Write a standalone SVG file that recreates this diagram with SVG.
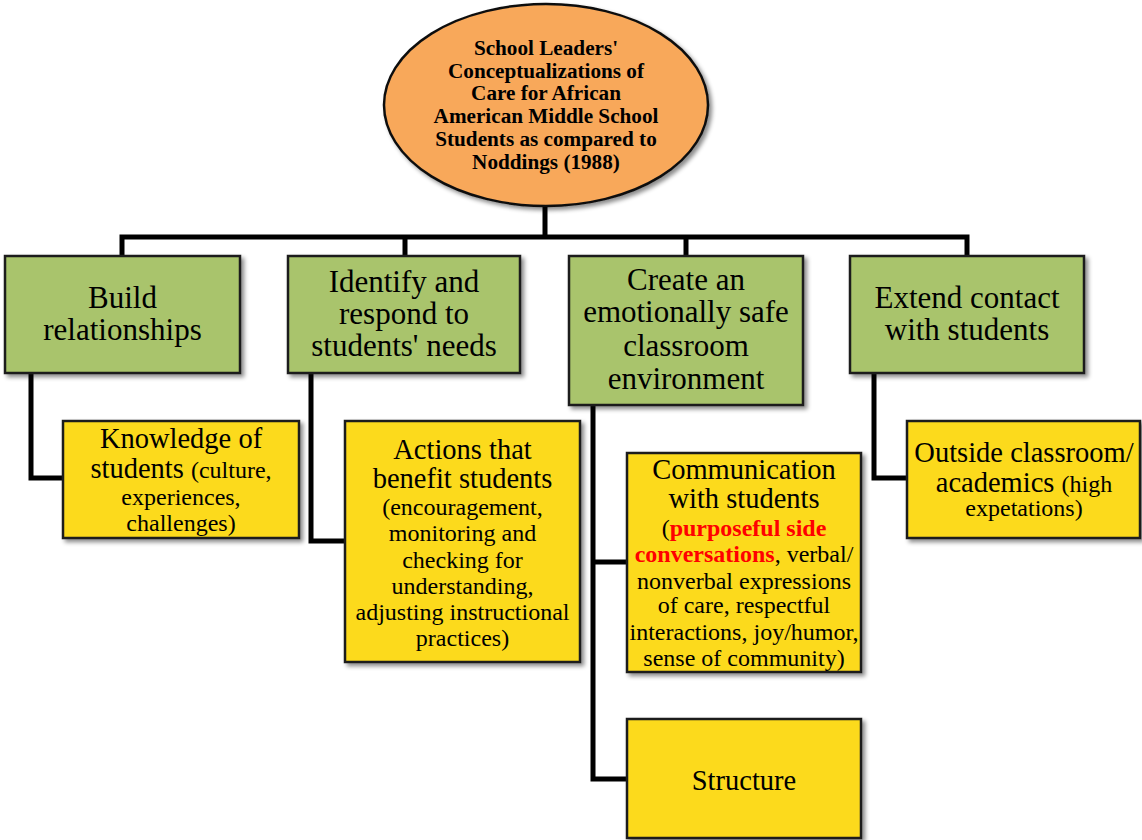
<svg xmlns="http://www.w3.org/2000/svg" width="1142" height="840" viewBox="0 0 1142 840">
<style>
.green{fill:#A9C46C;stroke:#1a1a1a;stroke-width:2.5;filter:url(#sh)}
.yellow{fill:#FCDA1F;stroke:#1a1a1a;stroke-width:2.5;filter:url(#sh)}
.oval{fill:#F8A85A;stroke:#111;stroke-width:2.5;filter:url(#sh)}
.t{font-family:"Liberation Serif","Times New Roman",serif;fill:#000;text-anchor:middle}
.g{font-size:31px}
.y{font-size:28.5px}
.s{font-size:24px}
.b{font-family:"Liberation Serif","Times New Roman",serif;font-weight:bold;font-size:21.2px;text-anchor:middle;fill:#000}
.red{fill:#FF0000;font-weight:bold}
.c{fill:none;stroke:#000;stroke-width:5;stroke-linejoin:miter}
</style>
<defs>
<filter id="sh" x="-10%" y="-10%" width="130%" height="130%">
<feDropShadow dx="3" dy="3" stdDeviation="2" flood-color="#000" flood-opacity="0.45"/>
</filter>
</defs>
<rect width="1142" height="840" fill="#fff"/>
<g id="connectors">
<path class="c" d="M545 200 V237 M122 255 V237 H967 V255 M405 237 V255 M686 237 V255"/>
<path class="c" d="M31 373 V478 H63"/>
<path class="c" d="M311 373 V541 H345"/>
<path class="c" d="M593 405 V779 H627 M593 562 H627"/>
<path class="c" d="M874 373 V478 H907"/>
</g>
<g id="root">
<ellipse class="oval" cx="546" cy="105" rx="162" ry="101"/>
<text class="b"><tspan x="546" y="55">School Leaders'</tspan><tspan x="546" y="78">Conceptualizations of</tspan><tspan x="546" y="100">Care for African</tspan><tspan x="546" y="123">American Middle School</tspan><tspan x="546" y="146">Students as compared to</tspan><tspan x="546" y="169">Noddings (1988)</tspan></text>
</g>
<g id="build">
<rect class="green" x="5" y="256" width="235" height="117"/>
<text class="t g"><tspan x="122.5" y="308">Build</tspan><tspan x="122.5" y="340">relationships</tspan></text>
</g>
<g id="identify">
<rect class="green" x="288" y="256" width="232" height="117"/>
<text class="t g"><tspan x="404" y="292">Identify and</tspan><tspan x="404" y="324">respond to</tspan><tspan x="404" y="356">students' needs</tspan></text>
</g>
<g id="create">
<rect class="green" x="569" y="256" width="234" height="149"/>
<text class="t g"><tspan x="686" y="290">Create an</tspan><tspan x="686" y="322">emotionally safe</tspan><tspan x="686" y="356">classroom</tspan><tspan x="686" y="389">environment</tspan></text>
</g>
<g id="extend">
<rect class="green" x="850" y="256" width="234" height="117"/>
<text class="t g"><tspan x="967" y="308">Extend contact</tspan><tspan x="967" y="340">with students</tspan></text>
</g>
<g id="knowledge">
<rect class="yellow" x="63" y="421" width="236" height="117"/>
<text class="t y"><tspan x="181" y="448">Knowledge of</tspan><tspan x="181" y="478">students <tspan class="s">(culture,</tspan></tspan><tspan x="181" y="505" class="s">experiences,</tspan><tspan x="181" y="531" class="s">challenges)</tspan></text>
</g>
<g id="actions">
<rect class="yellow" x="345" y="421" width="235" height="241"/>
<text class="t y"><tspan x="462.5" y="459">Actions that</tspan><tspan x="462.5" y="488">benefit students</tspan><tspan x="462.5" y="515" class="s">(encouragement,</tspan><tspan x="462.5" y="541" class="s">monitoring and</tspan><tspan x="462.5" y="568" class="s">checking for</tspan><tspan x="462.5" y="594" class="s">understanding,</tspan><tspan x="462.5" y="620" class="s">adjusting instructional</tspan><tspan x="462.5" y="646" class="s">practices)</tspan></text>
</g>
<g id="communication">
<rect class="yellow" x="627" y="453" width="234" height="219"/>
<text class="t y"><tspan x="744" y="479">Communication</tspan><tspan x="744" y="508">with students</tspan><tspan x="744" y="536" class="s">(<tspan class="red">purposeful side</tspan></tspan><tspan x="744" y="562" class="s"><tspan class="red">conversations</tspan>, verbal/</tspan><tspan x="744" y="589" class="s">nonverbal expressions</tspan><tspan x="744" y="613" class="s">of care, respectful</tspan><tspan x="744" y="640" class="s">interactions, joy/humor,</tspan><tspan x="744" y="666" class="s">sense of community)</tspan></text>
</g>
<g id="structure">
<rect class="yellow" x="627" y="719" width="234" height="119"/>
<text class="t y"><tspan x="744" y="790">Structure</tspan></text>
</g>
<g id="outside">
<rect class="yellow" x="907" y="421" width="233" height="117"/>
<text class="t y"><tspan x="1024" y="462">Outside classroom/</tspan><tspan x="1024" y="492">academics <tspan class="s">(high</tspan></tspan><tspan x="1024" y="516" class="s">expetations)</tspan></text>
</g>
</svg>
